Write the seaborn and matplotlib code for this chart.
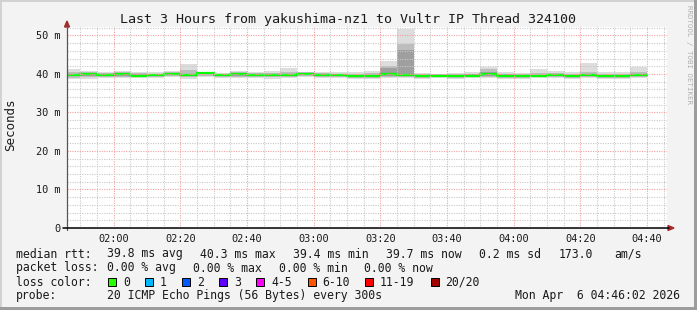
import matplotlib
matplotlib.use("Agg")
import matplotlib.pyplot as plt
import matplotlib.dates as mdates
from matplotlib.patches import Rectangle, Polygon
from matplotlib.lines import Line2D
from matplotlib.ticker import FixedLocator, MultipleLocator
import numpy as np
import pandas as pd
import seaborn as sns

# ---------------- data ----------------
bin_starts = pd.date_range("2026-04-06 01:45", periods=35, freq="5min")
bin_end = pd.Timestamp("2026-04-06 04:40")

median_ms = [39.8, 39.9, 39.7, 40.0, 39.6, 39.7, 40.0, 39.8, 40.3, 39.8, 39.9, 39.8,
             39.7, 39.8, 40.1, 39.8, 39.8, 39.5, 39.4, 39.9, 39.8, 39.5, 39.6, 39.5,
             39.6, 39.9, 39.5, 39.4, 39.6, 39.7, 39.4, 39.8, 39.6, 39.6, 39.7]
ping_max = [41.3, 40.8, 40.5, 40.7, 40.5, 40.5, 40.7, 42.5, 40.6, 40.3, 40.9, 40.6,
            40.8, 41.5, 40.5, 40.5, 40.4, 40.5, 40.9, 43.3, 51.8, 40.2, 40.1, 40.2,
            40.4, 41.9, 40.4, 40.2, 41.2, 40.9, 40.6, 42.8, 40.6, 40.4, 41.8]
ping_hi = [40.6, 40.4, 40.2, 40.4, 40.2, 40.1, 40.4, 41.0, 40.5, 40.1, 40.6, 40.2,
           40.3, 40.5, 40.4, 40.2, 40.1, 40.1, 40.2, 42.1, 47.7, 40.0, 39.9, 39.9,
           40.1, 41.3, 40.1, 39.9, 40.3, 40.3, 40.0, 40.6, 40.1, 40.0, 40.5]
ping_q3 = [40.1, 40.2, 39.9, 40.2, 39.9, 39.9, 40.3, 40.1, 40.4, 40.0, 40.3, 40.0,
           39.9, 40.0, 40.3, 40.1, 40.0, 39.8, 39.8, 41.6, 46.3, 39.8, 39.8, 39.7,
           39.9, 40.6, 39.9, 39.7, 39.8, 39.9, 39.7, 40.0, 39.8, 39.8, 39.9]
ping_q1 = [39.4, 39.5, 39.4, 39.6, 39.3, 39.4, 39.7, 39.5, 39.9, 39.5, 39.5, 39.5,
           39.4, 39.5, 39.7, 39.5, 39.5, 39.2, 39.1, 39.6, 39.5, 39.2, 39.3, 39.2,
           39.3, 39.6, 39.2, 39.1, 39.3, 39.4, 39.1, 39.5, 39.3, 39.3, 39.4]
ping_lo = [39.0, 39.1, 39.2, 39.3, 39.1, 39.1, 39.4, 39.2, 39.5, 39.2, 39.2, 39.2,
           39.1, 39.2, 39.4, 39.2, 39.2, 39.0, 38.9, 39.3, 39.2, 39.0, 39.1, 39.0,
           39.1, 39.3, 39.0, 38.9, 39.1, 39.1, 38.9, 39.2, 39.0, 39.0, 39.1]
ping_min = [38.6, 38.8, 39.0, 39.0, 38.9, 38.9, 39.1, 38.8, 39.2, 38.9, 38.9, 38.9,
            38.8, 38.9, 39.1, 38.9, 38.9, 38.7, 38.7, 39.0, 38.9, 38.8, 38.9, 38.8,
            38.9, 39.0, 38.8, 38.7, 38.9, 38.9, 38.7, 38.9, 38.8, 38.8, 38.9]

y_ticks = [0, 10, 20, 30, 40, 50]
y_tick_labels = ["0", "10 m", "20 m", "30 m", "40 m", "50 m"]

title = "Last 3 Hours from yakushima-nz1 to Vultr IP Thread 324100"
rtt_items = ["39.8 ms avg", "40.3 ms max", "39.4 ms min", "39.7 ms now", "0.2 ms sd", "173.0", "am/s"]
loss_items = ["0.00 % avg", "0.00 % max", "0.00 % min", "0.00 % now"]
loss_labels = ["0", "1", "2", "3", "4-5", "6-10", "11-19", "20/20"]
loss_colors = ["#26ff00", "#00b8ff", "#0059ff", "#5e00ff", "#ff00ff", "#ff5500", "#ff0000", "#a10000"]
probe_text = "20 ICMP Echo Pings (56 Bytes) every 300s"
stamp_text = "Mon Apr  6 04:46:02 2026"

# ---------------- style ----------------
sns.set_theme(style="white")
plt.rcParams["font.family"] = ["DejaVu Sans Mono", "DejaVu Sans"]
plt.rcParams["text.color"] = "#1a1a1a"

W, H = 697, 310
def fx(x): return x / W
def fy(y): return 1 - y / H

fig = plt.figure(figsize=(W / 100, H / 100), dpi=100, facecolor="#f3f3f3")
ax = fig.add_axes([fx(67), fy(228), 600 / W, 201 / H])
ax.set_facecolor("white")

edges = list(bin_starts) + [bin_end]
def ext(v): return list(v) + [v[-1]]

ax.fill_between(edges, ext(ping_min), ext(ping_max), step="post", color="#dddddd", lw=0, zorder=1)
ax.fill_between(edges, ext(ping_lo), ext(ping_hi), step="post", color="#bdbdbd", lw=0, zorder=1.1)
ax.fill_between(edges, ext(ping_q1), ext(ping_q3), step="post", color="#9f9f9f", lw=0, zorder=1.2)
df = pd.DataFrame({"t": edges, "median": ext(median_ms)})
sns.lineplot(data=df, x="t", y="median", drawstyle="steps-post", color="#00ff00",
             lw=1.6, zorder=1.3, ax=ax, estimator=None)

ax.set_xlim(pd.Timestamp("2026-04-06 01:46:02"), pd.Timestamp("2026-04-06 04:46:02"))
ax.set_ylim(0, 52.2)

ax.xaxis.set_major_locator(mdates.MinuteLocator(byminute=[0, 20, 40]))
ax.xaxis.set_minor_locator(mdates.MinuteLocator(byminute=[5, 10, 15, 25, 30, 35, 45, 50, 55]))
ax.xaxis.set_major_formatter(mdates.DateFormatter("%H:%M"))
ax.yaxis.set_major_locator(FixedLocator(y_ticks))
ax.set_yticklabels(y_tick_labels)
ax.yaxis.set_minor_locator(MultipleLocator(2))

ax.set_axisbelow(False)
ax.grid(which="minor", color="#c8c8c8", lw=0.8, ls=(0, (1, 1.2)))
ax.grid(which="major", color="#f2a0a0", lw=0.8, ls=(0, (1, 1.2)))

ax.set_xlabel("")
ax.set_ylabel("")
for s in ax.spines.values():
    s.set_visible(False)
ax.tick_params(axis="both", which="major", length=3, width=0.8, direction="inout",
               color="#666666", labelsize=7.4, labelcolor="#1a1a1a", pad=3)
ax.tick_params(axis="both", which="minor", length=2, width=0.6, direction="inout", color="#888888")
ax.tick_params(axis="y", pad=3)
for lab in ax.get_xticklabels() + ax.get_yticklabels():
    lab.set_fontfamily(["DejaVu Sans Mono", "DejaVu Sans"])

# axes lines with arrows
fig.add_artist(Line2D([fx(67), fx(67)], [fy(230), fy(24)], color="#555555", lw=0.9))
fig.add_artist(Line2D([fx(63), fx(669)], [fy(228), fy(228)], color="#000000", lw=1.1))
fig.add_artist(Polygon([[fx(64.5), fy(27)], [fx(69.5), fy(27)], [fx(67), fy(21)]],
                       closed=True, color="#a52a2a", transform=fig.transFigure))
fig.add_artist(Polygon([[fx(668), fy(225.5)], [fx(668), fy(230.5)], [fx(674), fy(228)]],
                       closed=True, color="#a52a2a", transform=fig.transFigure))

# title, y-label, watermark
fig.text(fx(348.5), fy(19), title, ha="center", va="center", fontsize=9.6)
fig.text(fx(11), fy(125), "Seconds", ha="center", va="center", rotation=90, fontsize=9)
fig.text(fx(689), fy(5), "RRDTOOL / TOBI OETIKER", ha="center", va="top", rotation=270,
         fontsize=5.3, color="#b0b0b0")

# legend rows
fs = 8.3
fig.text(fx(16), fy(254), "median rtt:", va="center", fontsize=fs)
for txt, x in zip(rtt_items, [107, 200, 293, 386, 479, 559, 614]):
    fig.text(fx(x), fy(254), txt, va="center", fontsize=fs)
fig.text(fx(16), fy(268), "packet loss:", va="center", fontsize=fs)
for txt, x in zip(loss_items, [107, 193, 279, 364]):
    fig.text(fx(x), fy(268), txt, va="center", fontsize=fs)
fig.text(fx(16), fy(282), "loss color:", va="center", fontsize=fs)
box_x = [108, 145, 182, 219, 256, 307.5, 365, 431]
lab_x = [123, 160, 197, 234, 271, 322, 380, 445]
for lab, col, bx, lx in zip(loss_labels, loss_colors, box_x, lab_x):
    fig.add_artist(Rectangle((fx(bx), fy(286)), 8 / W, 8 / H, facecolor=col,
                             edgecolor="#000000", lw=0.7, transform=fig.transFigure))
    fig.text(fx(lx), fy(282), lab, va="center", fontsize=fs)
fig.text(fx(16), fy(296), "probe:", va="center", fontsize=fs)
fig.text(fx(107), fy(296), probe_text, va="center", fontsize=fs)
fig.text(fx(680), fy(296), stamp_text, va="center", ha="right", fontsize=fs)

# 3D-ish frame
fig.add_artist(Rectangle((0, 0), fx(2), 1, color="#d2d2d2", transform=fig.transFigure, lw=0))
fig.add_artist(Rectangle((0, fy(2)), 1, 2 / H, color="#d2d2d2", transform=fig.transFigure, lw=0))
fig.add_artist(Rectangle((fx(694), 0), 3 / W, 1, color="#9c9c9c", transform=fig.transFigure, lw=0))
fig.add_artist(Rectangle((0, 0), 1, 3 / H, color="#9c9c9c", transform=fig.transFigure, lw=0))

fig.savefig("out.png", dpi=100, facecolor=fig.get_facecolor())
